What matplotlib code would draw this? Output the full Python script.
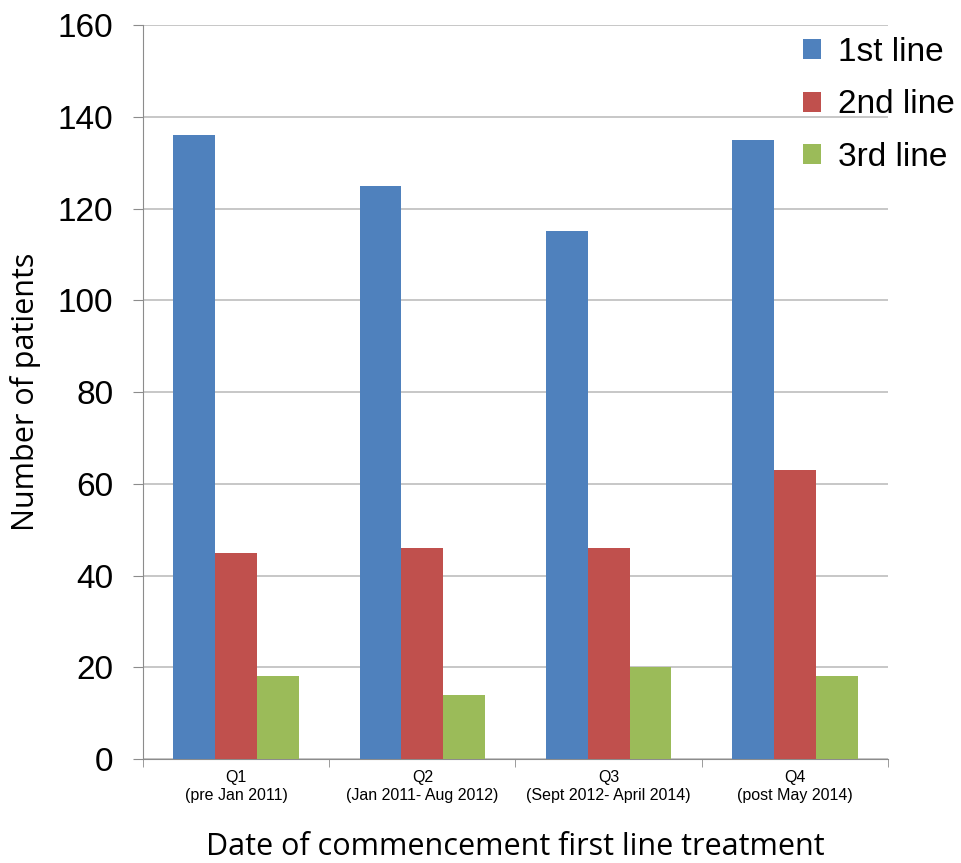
import numpy as np
import matplotlib.pyplot as plt
from matplotlib.ticker import FixedLocator

quarters = ['Q1\n(pre Jan 2011)', 'Q2\n(Jan 2011- Aug 2012)',
            'Q3\n(Sept 2012- April 2014)', 'Q4\n(post May 2014)']
series = ['1st line', '2nd line', '3rd line']
first_line = [136, 125, 115, 135]
second_line = [45, 46, 46, 63]
third_line = [18, 14, 20, 18]
colors = ['#4F81BD', '#C0504D', '#9BBB59']

fig = plt.figure(figsize=(9.61, 8.63), dpi=100)
ax = fig.add_axes([0.1488, 0.1205, 0.7752, 0.8505])

x = np.arange(len(quarters))
w = 0.225
for i, (vals, name) in enumerate(zip([first_line, second_line, third_line], series)):
    ax.bar(x + (i - 1) * w, vals, width=w, color=colors[i], label=name, zorder=3)

ax.set_xlim(-0.5, len(quarters) - 0.5)
ax.set_ylim(0, 160)
ax.set_yticks(np.arange(0, 161, 20))
ax.yaxis.grid(True, color='#BEBEBE', linewidth=1.2, zorder=0)
ax.set_axisbelow(True)

for s in ['top', 'right']:
    ax.spines[s].set_visible(False)
ax.spines['left'].set_color('#8C8C8C')
ax.spines['bottom'].set_color('#8C8C8C')

ax.tick_params(axis='y', length=7.5, color='#8C8C8C', labelsize=24, pad=14)
ax.set_yticklabels([str(v) for v in range(0, 161, 20)], family='Liberation Sans')

# category labels centred, ticks at the boundaries
ax.set_xticks(x)
ax.set_xticklabels(quarters, family='Liberation Sans', fontsize=11.5, linespacing=1.2)
ax.tick_params(axis='x', which='major', length=0, pad=8)
ax.xaxis.set_minor_locator(FixedLocator(np.arange(-0.5, len(quarters), 1.0)))
ax.tick_params(axis='x', which='minor', length=6, color='#8C8C8C')

ax.set_ylabel('Number of patients', fontsize=22, family='Open Sans', labelpad=12)
ax.set_xlabel('Date of commencement first line treatment', fontsize=22,
              family='Open Sans', labelpad=21)

leg = ax.legend(loc='upper right', bbox_to_anchor=(1.13, 1.025), frameon=False,
                prop={'family': 'Liberation Sans', 'size': 24},
                handlelength=0.55, handleheight=0.55, handletextpad=0.5,
                labelspacing=0.65)

fig.savefig('out.png', dpi=100)
